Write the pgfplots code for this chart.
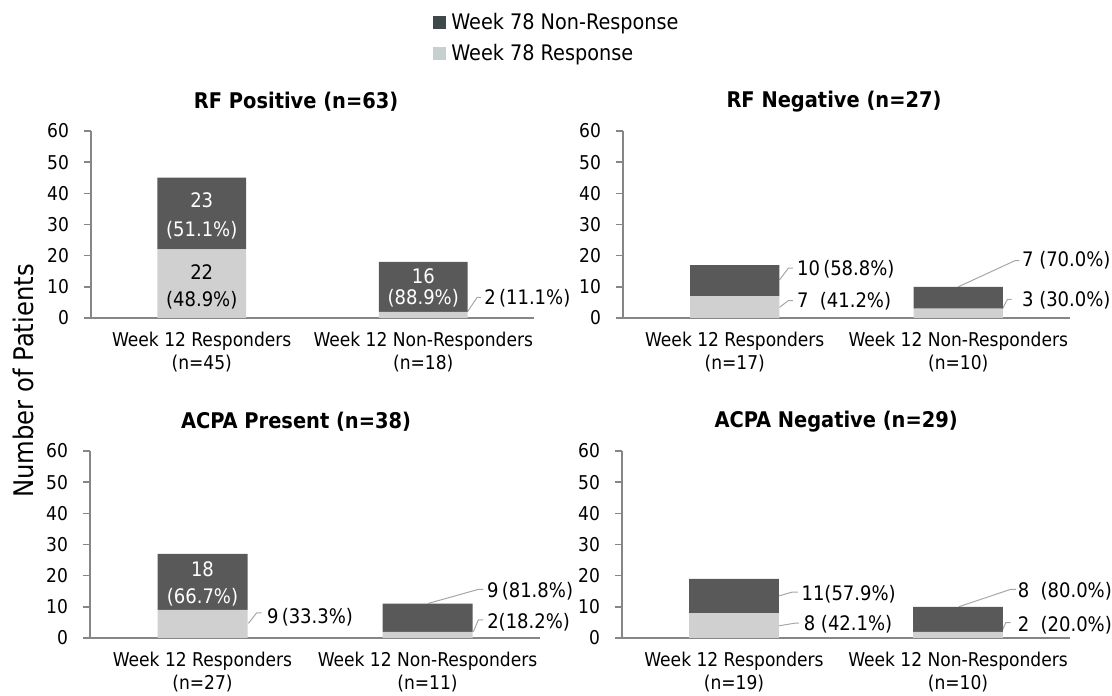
\documentclass[border=0pt]{standalone}
\usepackage{fontspec}
\setmainfont{DejaVu Sans Condensed}
\usepackage{pgfplots}
\pgfplotsset{compat=1.18}
\definecolor{dk}{HTML}{595959}
\definecolor{lt}{HTML}{D0D0D0}
\definecolor{legdk}{HTML}{3F4949}
\definecolor{leglt}{HTML}{C8CFCF}
\definecolor{axc}{HTML}{868686}
\definecolor{ldr}{HTML}{A6A6A6}
\pgfplotsset{
  panel/.style={
    scale only axis, height=93.5pt,
    ybar stacked, bar width=0.4,
    xmin=-0.5, xmax=1.5, ymin=0, ymax=60,
    axis lines*=left,
    axis line style={draw=axc, line width=0.75pt},
    ytick={0,10,...,60},
    xtick={0,1},
    tick align=outside,
    major tick length=3.5pt,
    ytick style={draw=axc, line width=0.75pt},
    xtick style={draw=none},
    /pgf/number format/assume math mode=true,
    tick label style={font=\fontsize{9.5}{11.5}\selectfont, text=black},
    xticklabel style={align=center},
    yticklabel style={xshift=-4pt},
    title style={font=\bfseries\fontsize{10.8}{12}\selectfont, anchor=center, yshift=8.5pt},
    clip=false,
  },
}
\tikzset{
  inl/.style={font=\fontsize{10}{12}\selectfont, inner sep=0pt},
  outl/.style={font=\fontsize{10}{12}\selectfont, anchor=west, inner sep=0pt},
  ldrl/.style={draw=ldr, line width=0.5pt},
}
\begin{document}
\begin{tikzpicture}
\useasboundingbox (0,0) rectangle (556pt,347.5pt);
% ---------- RF Positive
\begin{axis}[panel, width=221.5pt, at={(45.5pt,188.5pt)}, anchor=south west,
  title={RF Positive (n=63)}, title style={at={(axis description cs:0.463,1)}},
  xticklabels={{Week 12 Responders\\(n=45)},{Week 12 Non-Responders\\(n=18)}},
  legend style={at={(axis description cs:0.772,1.64)}, anchor=north west, draw=none, fill=none,
    inner sep=0pt, row sep=3.5pt, column sep=1.5pt, font=\fontsize{10.7}{13}\selectfont, nodes={inner sep=1pt}},
  legend cell align=left,
  legend image code/.code={\fill[#1, draw=none] (0pt,-3pt) rectangle (6.5pt,3.5pt);},
]
\addplot[fill=lt, draw=none, forget plot] coordinates {(0,22) (1,2)};
\addplot[fill=dk, draw=none, forget plot] coordinates {(0,23) (1,16)};
\addlegendimage{fill=legdk, draw=none}
\addlegendentry{Week 78 Non-Response}
\addlegendimage{fill=leglt, draw=none}
\addlegendentry{Week 78 Response}
\coordinate (a1) at (axis cs:0,37.9);
\coordinate (a2) at (axis cs:0,28.2);
\coordinate (a3) at (axis cs:0,14.8);
\coordinate (a4) at (axis cs:0,5.8);
\coordinate (a5) at (axis cs:1,13.4);
\coordinate (a6) at (axis cs:1,6.3);
\draw[ldrl] (axis cs:1.2,2.0) -- (axis cs:1.243,6.6) -- (axis cs:1.261,6.6);
\node[outl] at (axis cs:1.274,6.5) {2\,(11.1\%)};
\node[rotate=90, font=\fontsize{13.5}{15}\selectfont] at (axis description cs:-0.1535,-0.337) {Number of Patients};
\end{axis}
\node[inl, text=white] at (a1) {23};
\node[inl, text=white] at (a2) {(51.1\%)};
\node[inl, text=black] at (a3) {22};
\node[inl, text=black] at (a4) {(48.9\%)};
\node[inl, text=white] at (a5) {16};
\node[inl, text=white] at (a6) {(88.9\%)};
% ---------- RF Negative
\begin{axis}[panel, width=223.5pt, at={(311.5pt,188.5pt)}, anchor=south west,
  title={RF Negative (n=27)}, title style={at={(axis description cs:0.472,1)}},
  xticklabels={{Week 12 Responders\\(n=17)},{Week 12 Non-Responders\\(n=10)}},
]
\addplot[fill=lt, draw=none] coordinates {(0,7) (1,3)};
\addplot[fill=dk, draw=none] coordinates {(0,10) (1,7)};
\draw[ldrl] (axis cs:0.2,12.2) -- (axis cs:0.24,16.0) -- (axis cs:0.26,16.0);
\node[outl] at (axis cs:0.277,15.7) {10\,(58.8\%)};
\draw[ldrl] (axis cs:0.2,3.4) -- (axis cs:0.24,5.6) -- (axis cs:0.26,5.6);
\node[outl] at (axis cs:0.277,5.5) {7\ \ (41.2\%)};
\draw[ldrl] (axis cs:1.0,10.0) -- (axis cs:1.254,18.4) -- (axis cs:1.273,18.4);
\node[outl] at (axis cs:1.284,18.4) {7 (70.0\%)};
\draw[ldrl] (axis cs:1.197,2.8) -- (axis cs:1.22,6.0) -- (axis cs:1.239,6.0);
\node[outl] at (axis cs:1.284,5.6) {3 (30.0\%)};
\end{axis}
% ---------- ACPA Present
\begin{axis}[panel, width=225pt, at={(45pt,28.5pt)}, anchor=south west,
  title={ACPA Present (n=38)}, title style={at={(axis description cs:0.458,1)}},
  xticklabels={{Week 12 Responders\\(n=27)},{Week 12 Non-Responders\\(n=11)}},
]
\addplot[fill=lt, draw=none] coordinates {(0,9) (1,2)};
\addplot[fill=dk, draw=none] coordinates {(0,18) (1,9)};
\coordinate (c1) at (axis cs:0,22.1);
\coordinate (c2) at (axis cs:0,13.2);
\draw[ldrl] (axis cs:0.204,4.7) -- (axis cs:0.241,8.1) -- (axis cs:0.263,8.1);
\node[outl] at (axis cs:0.285,6.8) {9\,(33.3\%)};
\draw[ldrl] (axis cs:1.0036,11.1) -- (axis cs:1.226,15.6) -- (axis cs:1.248,15.6);
\node[outl] at (axis cs:1.263,14.9) {9\,(81.8\%)};
\draw[ldrl] (axis cs:1.2036,2.0) -- (axis cs:1.226,5.8) -- (axis cs:1.248,5.8);
\node[outl] at (axis cs:1.264,5.2) {2(18.2\%)};
\end{axis}
\node[inl, text=white] at (c1) {18};
\node[inl, text=white] at (c2) {(66.7\%)};
% ---------- ACPA Negative
\begin{axis}[panel, width=224pt, at={(311pt,28.5pt)}, anchor=south west,
  title={ACPA Negative (n=29)}, title style={at={(axis description cs:0.478,1)}},
  xticklabels={{Week 12 Responders\\(n=19)},{Week 12 Non-Responders\\(n=10)}},
]
\addplot[fill=lt, draw=none] coordinates {(0,8) (1,2)};
\addplot[fill=dk, draw=none] coordinates {(0,11) (1,8)};
\draw[ldrl] (axis cs:0.2,13.5) -- (axis cs:0.259,14.7) -- (axis cs:0.285,14.7);
\node[outl] at (axis cs:0.3,14.2) {11(57.9\%)};
\draw[ldrl] (axis cs:0.2,3.9) -- (axis cs:0.275,4.8) -- (axis cs:0.29,4.8);
\node[outl] at (axis cs:0.31,4.4) {8 (42.1\%)};
\draw[ldrl] (axis cs:1.004,10.05) -- (axis cs:1.235,15.6) -- (axis cs:1.258,15.6);
\node[outl] at (axis cs:1.265,14.9) {8\ \ (80.0\%)};
\draw[ldrl] (axis cs:1.195,2.0) -- (axis cs:1.213,4.9) -- (axis cs:1.235,4.9);
\node[outl] at (axis cs:1.265,4.2) {2\ \ (20.0\%)};
\end{axis}
\end{tikzpicture}
\end{document}
